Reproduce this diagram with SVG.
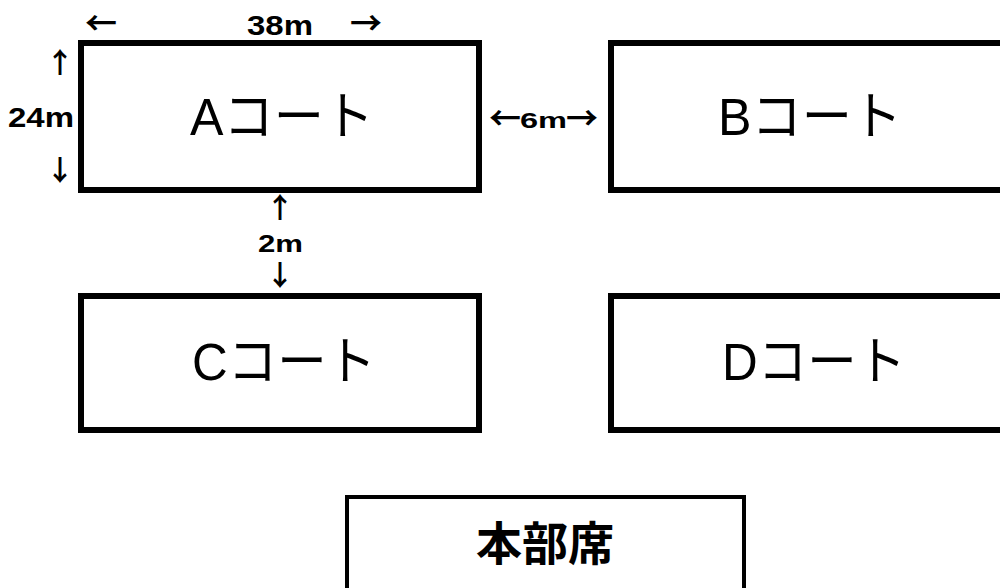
<svg xmlns="http://www.w3.org/2000/svg" width="1000" height="588" viewBox="0 0 1000 588">
<style>
.court{fill:#fff;stroke:#000;stroke-width:6}
.hq{fill:#fff;stroke:#000;stroke-width:4}
.cl{font-family:"Liberation Sans","Noto Sans CJK JP",sans-serif;font-size:52px;fill:#000}
.hl{font-family:"Noto Sans CJK JP",sans-serif;font-weight:bold;font-size:46px;fill:#000}
.dim{font-family:"Liberation Sans","Noto Sans CJK JP",sans-serif;font-weight:bold;fill:#000}
.arr{font-family:"Noto Sans CJK JP",sans-serif;font-weight:bold;font-size:28px;fill:#000}
.harr{font-family:"Noto Sans CJK JP",sans-serif;font-weight:bold;font-size:32px;fill:#000}
</style>
<rect width="1000" height="588" fill="#fff"/>
<g id="court-a">
<rect class="court" x="81" y="43" width="398" height="147"/>
<text class="cl" x="190" y="135" textLength="184" lengthAdjust="spacingAndGlyphs">Aコート</text>
</g>
<g id="court-b">
<rect class="court" x="611" y="43" width="500" height="147"/>
<text class="cl" x="718" y="135" textLength="184" lengthAdjust="spacingAndGlyphs">Bコート</text>
</g>
<g id="court-c">
<rect class="court" x="81" y="296" width="398" height="134"/>
<text class="cl" x="192" y="380" textLength="184" lengthAdjust="spacingAndGlyphs">Cコート</text>
</g>
<g id="court-d">
<rect class="court" x="611" y="296" width="500" height="134"/>
<text class="cl" x="722" y="380" textLength="184" lengthAdjust="spacingAndGlyphs">Dコート</text>
</g>
<g id="honbuseki">
<rect class="hq" x="347" y="497" width="397" height="200"/>
<text class="hl" x="545" y="560" text-anchor="middle">本部席</text>
</g>
<g id="dimensions">
<text class="harr" x="101" y="35" text-anchor="middle">←</text>
<text class="dim" x="247" y="35" font-size="28" textLength="66" lengthAdjust="spacingAndGlyphs">38m</text>
<text class="harr" x="366" y="35" text-anchor="middle">→</text>
<text class="arr" x="60" y="73" text-anchor="middle">↑</text>
<text class="dim" x="8" y="127" font-size="28" textLength="66" lengthAdjust="spacingAndGlyphs">24m</text>
<text class="arr" x="60" y="181" text-anchor="middle">↓</text>
<text class="arr" x="280" y="218" text-anchor="middle">↑</text>
<text class="dim" x="258" y="252" font-size="24" textLength="45" lengthAdjust="spacingAndGlyphs">2m</text>
<text class="arr" x="280" y="286" text-anchor="middle" font-size="26">↓</text>
<text class="dim" font-size="22" y="128"><tspan class="harr" x="505" y="130" text-anchor="middle">←</tspan><tspan x="520" y="128" textLength="47" lengthAdjust="spacingAndGlyphs">6m</tspan><tspan class="harr" x="582" y="130" text-anchor="middle">→</tspan></text>
</g>
</svg>
